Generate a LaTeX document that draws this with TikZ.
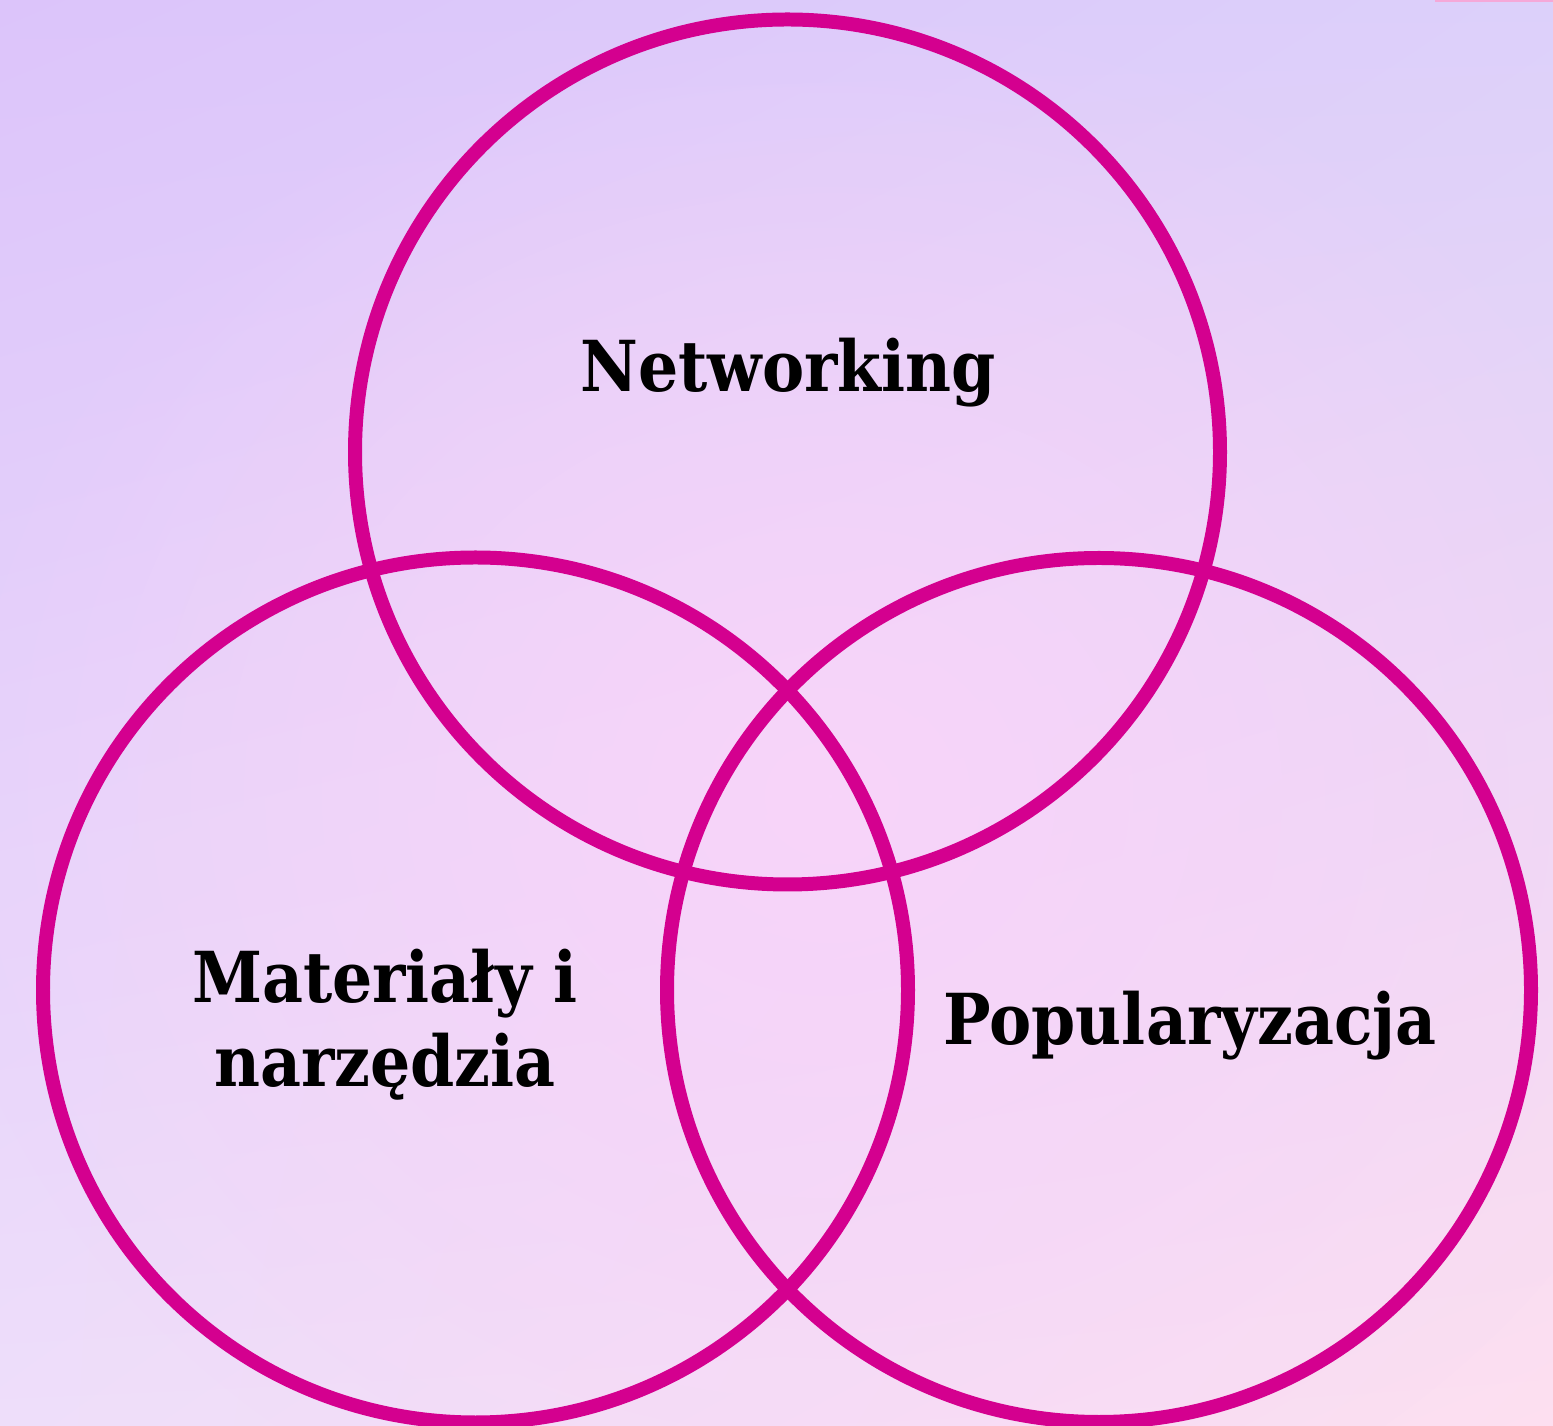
\documentclass[tikz,border=0pt]{standalone}
\usepackage{fontspec}
\usetikzlibrary{shadings,fadings}
\setmainfont{DejaVu Serif}
\definecolor{ring}{HTML}{D4008F}
\definecolor{bgTL}{HTML}{DCC4FA}
\definecolor{bgTR}{HTML}{DCD0FA}
\definecolor{bgBL}{HTML}{EEDEFA}
\definecolor{bgBR}{HTML}{FDDFF0}
\definecolor{glow}{HTML}{F8D4FA}
\definecolor{strip}{HTML}{F5A8D8}
\tikzfading[name=glowfade, inner color=transparent!0, outer color=transparent!100]
\tikzset{
  ring/.style={draw=ring, line width=14*0.01cm},
  label/.style={font=\bfseries\fontsize{20}{24}\selectfont, text=black, align=center, inner sep=0pt, xscale=0.9}
}
\begin{document}
\begin{tikzpicture}
\useasboundingbox (0,0) rectangle (15.53,14.26);
\shade[upper left=bgTL, upper right=bgTR, lower left=bgBL, lower right=bgBR] (0,0) rectangle (15.53,14.26);
\fill[glow, path fading=glowfade] (8.3,6.3) ellipse [x radius=9, y radius=8];
\fill[strip] (14.35,14.24) rectangle (15.53,14.26);
\draw[ring] (7.875,9.74) circle [radius=4.325];
\draw[ring] (4.755,4.36) circle [radius=4.325];
\draw[ring] (10.99,4.36) circle [radius=4.32];
\node[label, anchor=base] (net) at (7.88,10.34) {Networking};
\node[label, anchor=base] (mat) at (3.85,3.39) {Materiały i\\narzędzia};
\node[label, anchor=base] (pop) at (11.90,3.81) {Popularyzacja};
\end{tikzpicture}
\end{document}
